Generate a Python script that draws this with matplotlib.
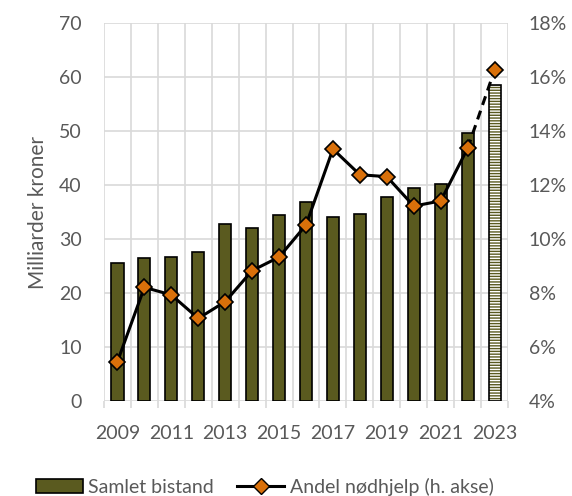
import numpy as np
import matplotlib.pyplot as plt
from matplotlib.patches import Patch
from matplotlib.lines import Line2D

# ========= DATA =========
years = list(range(2009, 2024))
samlet_bistand = [25.6, 26.4, 26.7, 27.6, 32.8, 32.0, 34.4, 36.8, 34.1, 34.7,
                  37.8, 39.5, 40.2, 49.6, 58.5]  # milliarder kroner
andel_nodhjelp = [5.46, 8.21, 7.93, 7.06, 7.68, 8.83, 9.33, 10.52, 13.33, 12.38,
                  12.31, 11.22, 11.41, 13.36, 16.26]  # prosent

OLIVE = "#5A5A1F"
ORANGE = "#D9700A"
GREY = "#595959"
GRID = "#D9D9D9"
FS = 14

plt.rcParams["font.family"] = ["Lato", "DejaVu Sans"]
plt.rcParams["hatch.linewidth"] = 1.0

fig = plt.figure(figsize=(5.72, 4.96), dpi=100)
ax = fig.add_axes([0.1818, 0.1915, 0.7064, 0.7621])
ax2 = ax.twinx()

x = np.arange(len(years))
w = 0.45

# bars (last year = estimate, hatched)
ax.bar(x[:-1], samlet_bistand[:-1], width=w, color=OLIVE, edgecolor="black",
       linewidth=1.2, zorder=3)
ax.bar(x[-1], samlet_bistand[-1], width=w, color="white", edgecolor=OLIVE,
       hatch="------", linewidth=0, zorder=3)
ax.bar(x[-1], samlet_bistand[-1], width=w, color="none", edgecolor="black",
       linewidth=1.2, zorder=4)

ax.set_xlim(-0.5, len(years) - 0.5)
ax.set_ylim(0, 70)
ax.set_yticks(range(0, 71, 10))
ax.set_xticks(x[::2])
ax.set_xticklabels([str(y) for y in years[::2]])
ax.set_xticks(np.arange(-0.5, len(years), 1), minor=True)
ax.grid(axis="y", color=GRID, linewidth=1.2, zorder=0)
ax.grid(axis="x", which="minor", color=GRID, linewidth=1.2, zorder=0)
ax.tick_params(axis="x", which="major", length=0, labelsize=FS, colors=GREY, pad=17)
ax.tick_params(axis="x", which="minor", length=5, color=GRID, width=1.2)
ax.tick_params(axis="y", length=0, labelsize=FS, colors=GREY, pad=16)
ax.set_ylabel("Milliarder kroner", fontsize=FS + 1, color=GREY, labelpad=8)
for s in ax.spines.values():
    s.set_visible(False)

# line on secondary axis
ax2.plot(x[:-1], andel_nodhjelp[:-1], color="black", linewidth=2.2, zorder=5)
ax2.plot(x[-2:], andel_nodhjelp[-2:], color="black", linewidth=2.2,
         linestyle=(0, (3, 2)), zorder=5)
ax2.plot(x, andel_nodhjelp, linestyle="none", marker="D", markersize=8,
         markerfacecolor=ORANGE, markeredgecolor="black", markeredgewidth=1.2,
         zorder=6)
ax2.set_ylim(4, 18)
ax2.set_yticks(range(4, 19, 2))
ax2.set_yticklabels([f"{v}%" for v in range(4, 19, 2)])
ax2.tick_params(axis="y", length=0, labelsize=FS, colors=GREY, pad=15)
for s in ax2.spines.values():
    s.set_visible(False)

handles = [
    Patch(facecolor=OLIVE, edgecolor="black", linewidth=1.2, label="Samlet bistand"),
    Line2D([0], [0], color="black", linewidth=2.2, marker="D", markersize=8,
           markerfacecolor=ORANGE, markeredgecolor="black", label="Andel nødhjelp (h. akse)"),
]
fig.legend(handles=handles, loc="center", bbox_to_anchor=(0.463, 0.018), ncol=2,
           frameon=False, fontsize=FS, labelcolor=GREY, handlelength=2.4,
           columnspacing=1.2, handletextpad=0.3, borderpad=0)

fig.savefig("out.png", dpi=100)
